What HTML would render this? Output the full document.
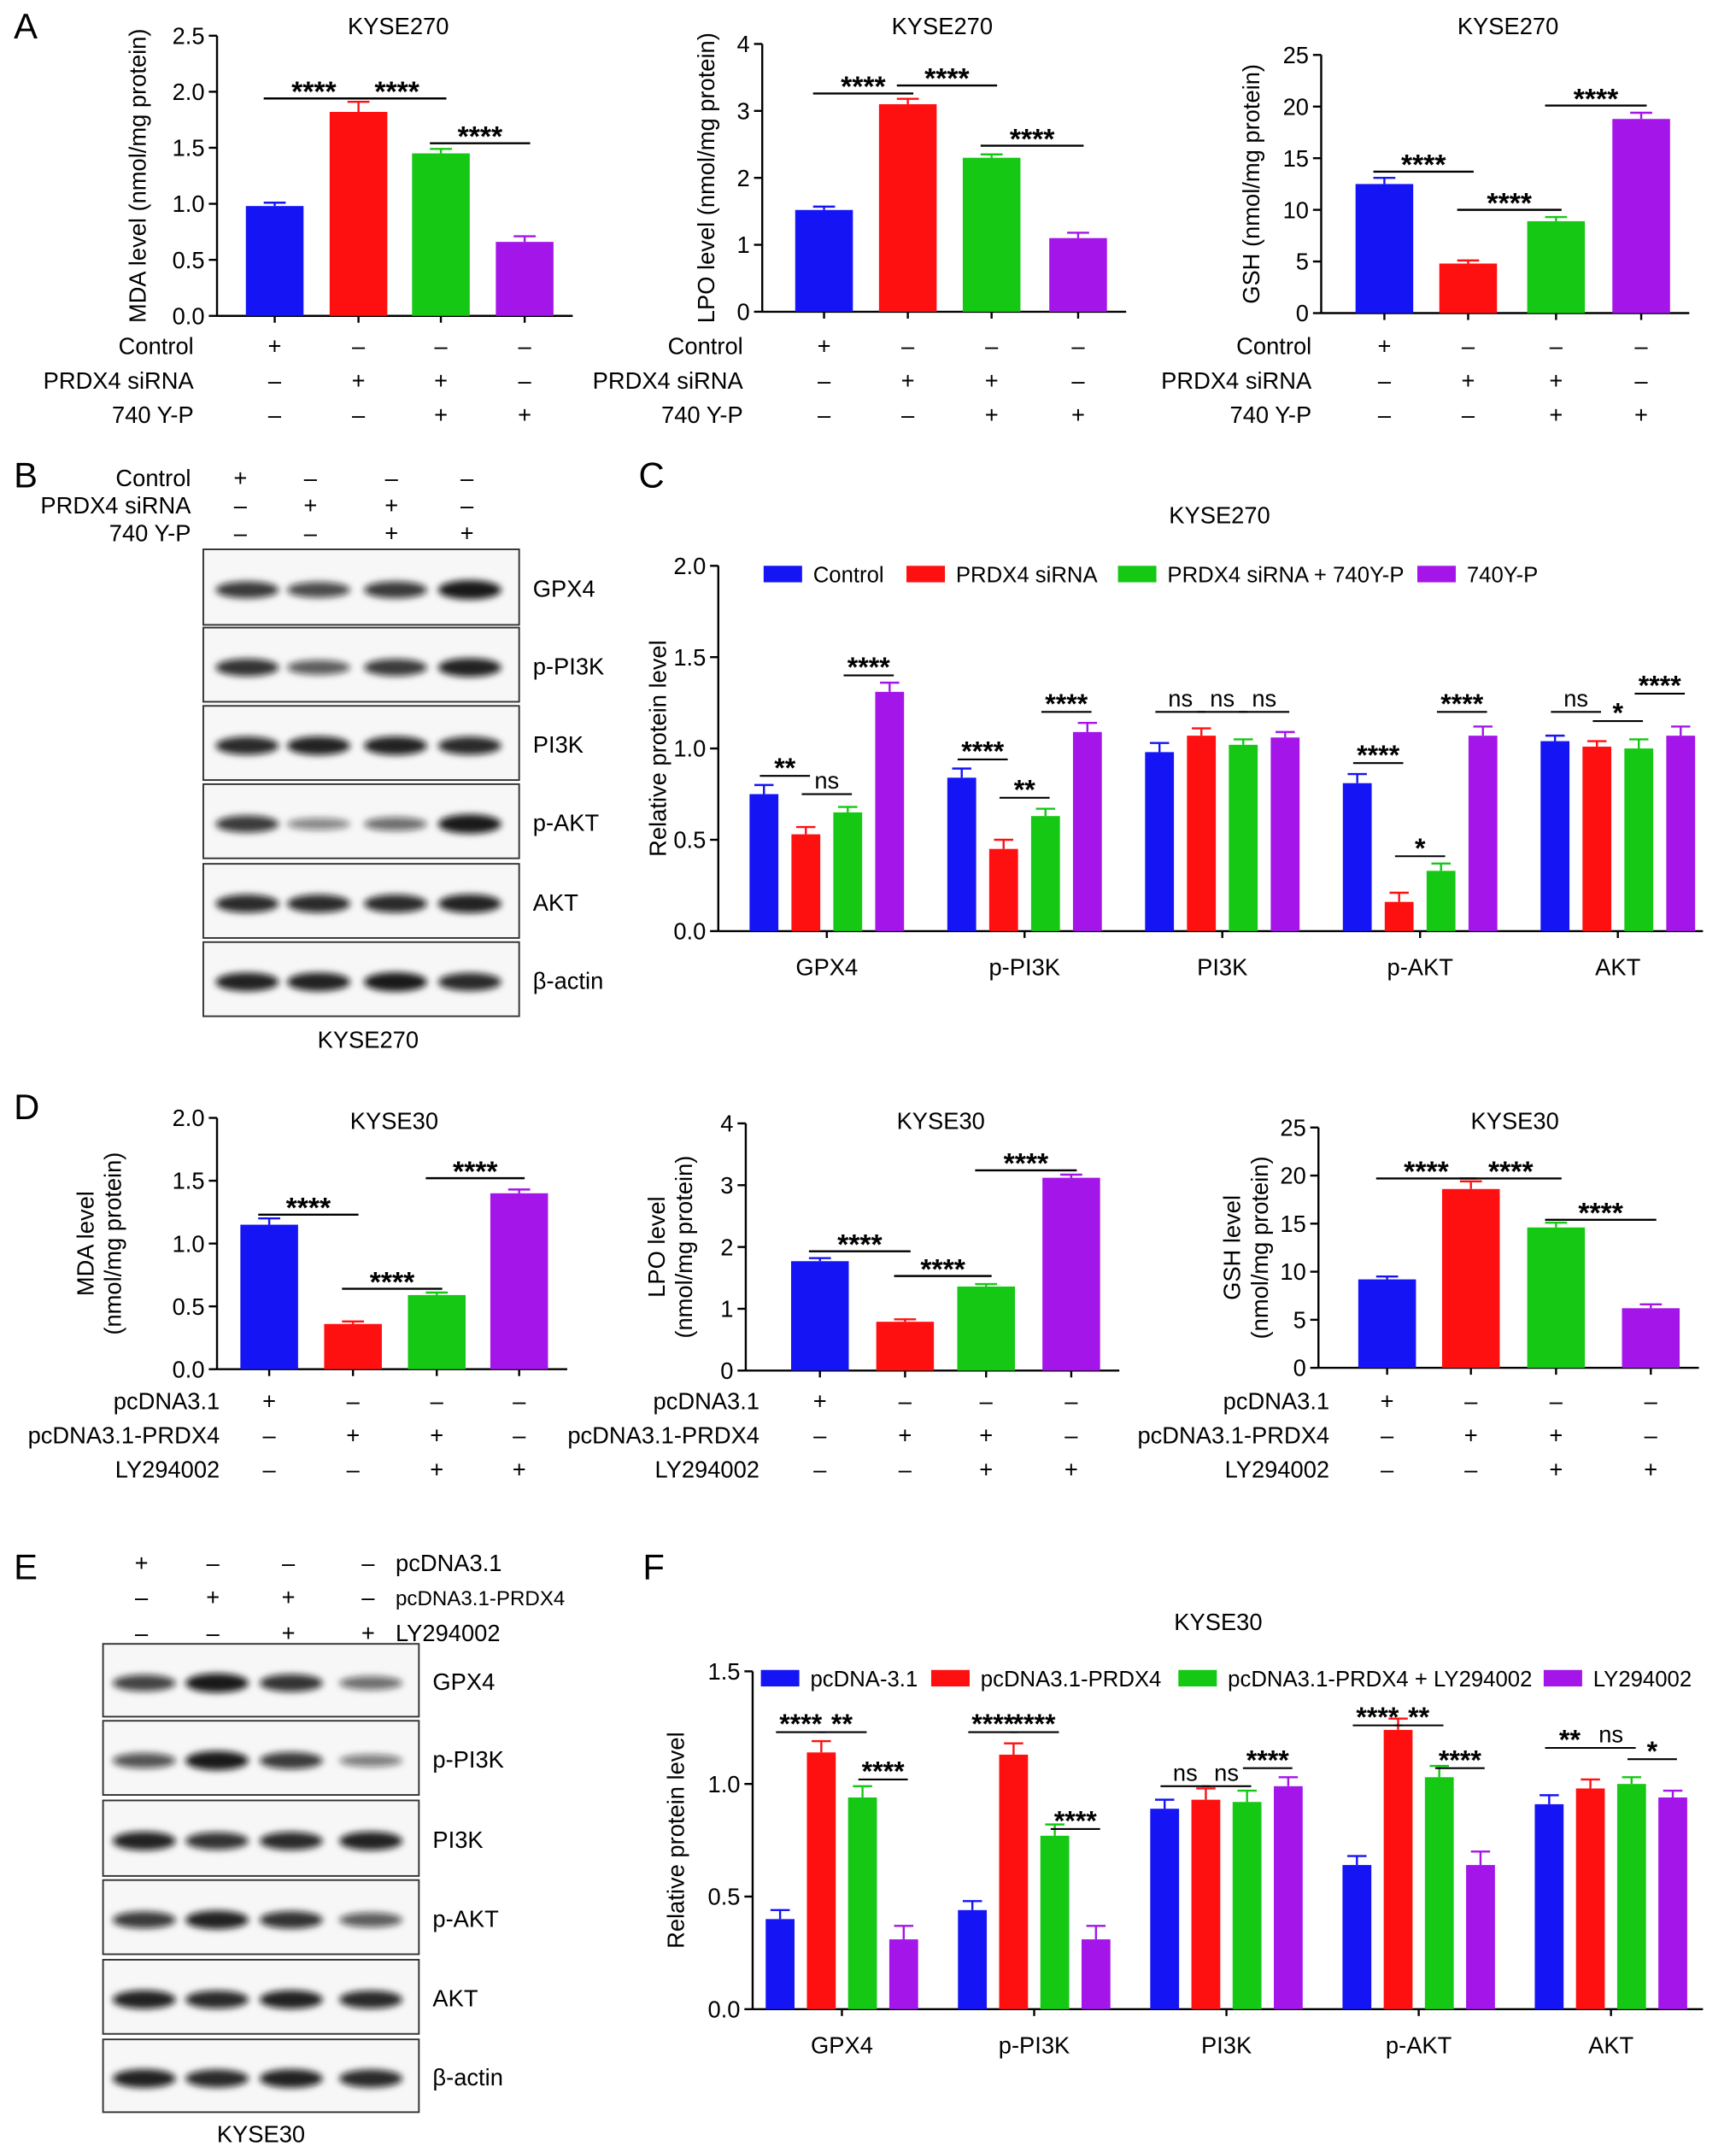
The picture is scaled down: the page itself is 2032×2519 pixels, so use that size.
<!DOCTYPE html>
<html><head><meta charset="utf-8">
<style>
html,body{margin:0;padding:0;background:#fff;}
svg{display:block;font-family:"Liberation Sans",Arial,sans-serif;}
</style></head>
<body>
<svg id="fig" xmlns="http://www.w3.org/2000/svg" width="2032" height="2519" viewBox="0 0 1264 1567">
<defs><filter id="blur" x="-20%" y="-50%" width="140%" height="200%"><feGaussianBlur stdDeviation="2.5"/></filter></defs>
</svg>
<script>
const COLORS=['#1414f5','#ff1010','#14c814','#a315e8'];
// Panel A data
const a1Values=[0.98,1.82,1.45,0.66], a1Err=[0.03,0.09,0.04,0.05];
const a2Values=[1.52,3.1,2.3,1.1], a2Err=[0.05,0.08,0.05,0.08];
const a3Values=[12.5,4.8,8.9,18.8], a3Err=[0.6,0.3,0.4,0.6];
const a1Ticks=['0.0','0.5','1.0','1.5','2.0','2.5'];
const a2Ticks=['0','1','2','3','4'];
const a3Ticks=['0','5','10','15','20','25'];
const a1Sig=[[0,1,1.94,'****'],[1,2,1.94,'****'],[2,3,1.54,'****']];
const a2Sig=[[0,1,3.26,'****'],[1,2,3.38,'****'],[2,3,2.48,'****']];
const a3Sig=[[0,1,13.7,'****'],[1,2,10.0,'****'],[2,3,20.1,'****']];
// Panel D data
const d1Values=[1.15,0.36,0.59,1.4], d1Err=[0.05,0.02,0.02,0.03];
const d2Values=[1.77,0.79,1.36,3.12], d2Err=[0.05,0.04,0.04,0.05];
const d3Values=[9.2,18.6,14.6,6.2], d3Err=[0.3,0.8,0.5,0.4];
const d1Ticks=['0.0','0.5','1.0','1.5','2.0'];
const d2Ticks=['0','1','2','3','4'];
const d3Ticks=['0','5','10','15','20','25'];
const d1Sig=[[0,1,1.23,'****'],[1,2,0.64,'****'],[2,3,1.52,'****']];
const d2Sig=[[0,1,1.93,'****'],[1,2,1.53,'****'],[2,3,3.24,'****']];
const d3Sig=[[0,1,19.7,'****'],[1,2,19.7,'****'],[2,3,15.4,'****']];
// Panel C data
const cCategories=['GPX4','p-PI3K','PI3K','p-AKT','AKT'];
const cControl=[0.75,0.84,0.98,0.81,1.04];
const cSiRNA=[0.53,0.45,1.07,0.16,1.01];
const cSiRNA740=[0.65,0.63,1.02,0.33,1.00];
const c740=[1.31,1.09,1.06,1.07,1.07];
const cErr=[[0.05,0.05,0.05,0.05,0.03],[0.04,0.05,0.04,0.05,0.03],[0.03,0.04,0.03,0.04,0.05],[0.05,0.05,0.03,0.05,0.05]];
const cTicks=['0.0','0.5','1.0','1.5','2.0'];
const cSig=[[0,0,1,0.85,'**'],[0,1,2,0.75,'ns'],[0,2,3,1.40,'****'],
 [1,0,1,0.94,'****'],[1,1,2,0.73,'**'],[1,2,3,1.20,'****'],
 [2,0,1,1.20,'ns'],[2,1,2,1.20,'ns'],[2,2,3,1.20,'ns'],
 [3,0,1,0.92,'****'],[3,1,2,0.41,'*'],[3,2,3,1.20,'****'],
 [4,0,1,1.20,'ns'],[4,1,2,1.15,'*'],[4,2,3,1.30,'****']];
const cLegend=['Control','PRDX4 siRNA','PRDX4 siRNA + 740Y-P','740Y-P'];
// Panel F data
const fControl=[0.40,0.44,0.89,0.64,0.91];
const fPRDX4=[1.14,1.13,0.93,1.24,0.98];
const fPRDX4LY=[0.94,0.77,0.92,1.03,1.00];
const fLY=[0.31,0.31,0.99,0.64,0.94];
const fErr=[[0.04,0.04,0.04,0.04,0.04],[0.05,0.05,0.05,0.05,0.04],[0.05,0.05,0.05,0.05,0.03],[0.06,0.06,0.04,0.06,0.03]];
const fTicks=['0.0','0.5','1.0','1.5'];
const fSig=[[0,0,1,1.23,'****'],[0,1,2,1.23,'**'],[0,2,3,1.02,'****'],
 [1,0,1,1.23,'****'],[1,1,2,1.23,'****'],[1,2,3,0.80,'****'],
 [2,0,1,0.99,'ns'],[2,1,2,0.99,'ns'],[2,2,3,1.07,'****'],
 [3,0,1,1.26,'****'],[3,1,2,1.26,'**'],[3,2,3,1.07,'****'],
 [4,0,1,1.16,'**'],[4,1,2,1.16,'ns'],[4,2,3,1.11,'*']];
const fLegend=['pcDNA-3.1','pcDNA3.1-PRDX4','pcDNA3.1-PRDX4 + LY294002','LY294002'];
// Blots
const bProteins=['GPX4','p-PI3K','PI3K','p-AKT','AKT','β-actin'];
const bIntensity=[[0.8,0.7,0.8,1.0],[0.85,0.6,0.8,0.95],[0.9,0.95,0.95,0.9],[0.8,0.35,0.5,1.0],[0.9,0.9,0.9,0.95],[0.95,0.95,1.0,0.9]];
const eIntensity=[[0.75,1.0,0.85,0.5],[0.65,1.0,0.8,0.4],[0.95,0.85,0.9,0.95],[0.8,0.95,0.85,0.6],[0.95,0.9,0.95,0.9],[0.95,0.9,0.95,0.9]];

const svg=document.getElementById('fig');
const NS='http://www.w3.org/2000/svg';
function mk(tag,name,attrs,parent){
  const e=document.createElementNS(NS,tag);
  
  
  for(const k in attrs) e.setAttribute(k,attrs[k]);
  (parent||svg).appendChild(e);
  return e;
}
function txt(name,x,y,s,size,anchor,extra){
  const t=mk('text',name,Object.assign({x:x,y:y,'font-size':size||17,'text-anchor':anchor||'start',fill:'#000'},extra||{}));
  t.textContent=s;return t;
}
function line(name,x1,y1,x2,y2,w,col){return mk('line',name,{x1:x1,y1:y1,x2:x2,y2:y2,stroke:col||'#000','stroke-width':w||1.5});}

function simpleChart(p){
  const sy=v=>p.y0-(v/p.max)*(p.y0-p.yTop);
  line('y-axis',p.ax,p.yTop,p.ax,p.y0);
  line('x-axis',p.ax,p.y0,p.centers[3]+35,p.y0);
  p.ticks.forEach((t,i)=>{const v=p.max*i/(p.ticks.length-1);const y=sy(v);
    line('y-tick',p.ax-6,y,p.ax,y);
    txt('y-tick-label',p.ax-9,y+6,t,17,'end');});
  p.centers.forEach(c=>line('x-tick',c,p.y0,c,p.y0+5));
  p.values.forEach((v,i)=>{
    const c=p.centers[i];
    mk('rect','bar-'+(i+1),{x:c-p.bw/2,y:sy(v),width:p.bw,height:p.y0-sy(v),fill:COLORS[i]});
    const ye=sy(v+p.err[i]);
    line('error-bar',c,sy(v),c,ye,1.5,COLORS[i]);line('error-cap',c-8,ye,c+8,ye,1.5,COLORS[i]);
  });
  p.sig.forEach(s=>{const y=sy(s[2]);const x1=p.centers[s[0]]-8,x2=p.centers[s[1]]+4;
    line('significance-line',x1,y,x2,y,1.5);
    txt('significance-label',(x1+x2)/2,y+2,s[3],21,'middle',{'font-weight':'bold'});});
  txt('chart-title',p.titleX,p.titleY,p.title,17,'middle');
  const yl=p.ylabel;
  if(yl.length===1){txt('y-axis-title',0,0,yl[0],17,'middle',{transform:`translate(${p.ylx},${(p.y0+p.yTop)/2}) rotate(-90)`});}
  else{txt('y-axis-title',0,0,yl[0],17,'middle',{transform:`translate(${p.ylx-10},${(p.y0+p.yTop)/2}) rotate(-90)`});
       txt('y-axis-title-unit',0,0,yl[1],17,'middle',{transform:`translate(${p.ylx+10},${(p.y0+p.yTop)/2}) rotate(-90)`});}
  p.rows.forEach((r,ri)=>{const y=p.rowY[ri];
    txt('condition-label',p.labelX,y+6,r[0],17,'end');
    r[1].forEach((s,i)=>txt('condition-sign',p.centers[i],y+6,s?'+':'–',17,'middle'));});
}
const rowsA=[['Control',[1,0,0,0]],['PRDX4 siRNA',[0,1,1,0]],['740 Y-P',[0,0,1,1]]];
const rowsD=[['pcDNA3.1',[1,0,0,0]],['pcDNA3.1-PRDX4',[0,1,1,0]],['LY294002',[0,0,1,1]]];
const rowYA=[252,277,302], rowYD=[1020,1045,1070];
simpleChart({ax:158,y0:230,yTop:26,max:2.5,ticks:a1Ticks,centers:[200,261,321,382],bw:42,values:a1Values,err:a1Err,sig:a1Sig,title:'KYSE270',titleX:290,titleY:25,ylabel:['MDA level (nmol/mg protein)'],ylx:106,rows:rowsA,rowY:rowYA,labelX:141});
simpleChart({ax:555,y0:227,yTop:32,max:4,ticks:a2Ticks,centers:[600,661,722,785],bw:42,values:a2Values,err:a2Err,sig:a2Sig,title:'KYSE270',titleX:686,titleY:25,ylabel:['LPO level (nmol/mg protein)'],ylx:520,rows:rowsA,rowY:rowYA,labelX:541});
simpleChart({ax:962,y0:228,yTop:40,max:25,ticks:a3Ticks,centers:[1008,1069,1133,1195],bw:42,values:a3Values,err:a3Err,sig:a3Sig,title:'KYSE270',titleX:1098,titleY:25,ylabel:['GSH (nmol/mg protein)'],ylx:917,rows:rowsA,rowY:rowYA,labelX:955});
simpleChart({ax:158,y0:997,yTop:814,max:2,ticks:d1Ticks,centers:[196,257,318,378],bw:42,values:d1Values,err:d1Err,sig:d1Sig,title:'KYSE30',titleX:287,titleY:822,ylabel:['MDA level','(nmol/mg protein)'],ylx:78,rows:rowsD,rowY:rowYD,labelX:160});
simpleChart({ax:543,y0:998,yTop:818,max:4,ticks:d2Ticks,centers:[597,659,718,780],bw:42,values:d2Values,err:d2Err,sig:d2Sig,title:'KYSE30',titleX:685,titleY:822,ylabel:['LPO level','(nmol/mg protein)'],ylx:494,rows:rowsD,rowY:rowYD,labelX:553});
simpleChart({ax:960,y0:996,yTop:821,max:25,ticks:d3Ticks,centers:[1010,1071,1133,1202],bw:42,values:d3Values,err:d3Err,sig:d3Sig,title:'KYSE30',titleX:1103,titleY:822,ylabel:['GSH  level','(nmol/mg protein)'],ylx:913,rows:rowsD,rowY:rowYD,labelX:968});

function groupChart(p){
  const sy=v=>p.y0-(v/p.max)*(p.y0-p.yTop);
  const bx=(g,i)=>p.g0+g*p.gStep+(i-1.5)*p.bStep;
  line('y-axis',p.ax,p.yTop,p.ax,p.y0);
  line('x-axis',p.ax,p.y0,p.xEnd,p.y0);
  p.ticks.forEach((t,i)=>{const v=p.max*i/(p.ticks.length-1);const y=sy(v);
    line('y-tick',p.ax-6,y,p.ax,y);txt('y-tick-label',p.ax-9,y+6,t,17,'end');});
  p.series.forEach((ser,i)=>ser.forEach((v,g)=>{const c=bx(g,i);
    mk('rect','bar-'+p.cats[g]+'-'+(i+1),{x:c-p.bw/2,y:sy(v),width:p.bw,height:p.y0-sy(v),fill:COLORS[i]});
    const ye=sy(v+p.err[i][g]);line('error-bar',c,sy(v),c,ye,1.5,COLORS[i]);line('error-cap',c-7,ye,c+7,ye,1.5,COLORS[i]);}));
  p.cats.forEach((c,g)=>{const x=p.g0+g*p.gStep;line('x-tick',x,p.y0,x,p.y0+5);txt('x-tick-label',x,p.y0+32,c,17,'middle');});
  p.sig.forEach(s=>{const y=sy(s[3]);const x1=bx(s[0],s[1])-3,x2=bx(s[0],s[2])+3;
    line('significance-line',x1,y,x2,y,1.3);
    const ns=s[4]==='ns';
    txt('significance-label',(x1+x2)/2,ns?y-4:y+1,s[4],ns?17:20,'middle',{'font-weight':ns?'normal':'bold'});});
  txt('chart-title',p.titleX,p.titleY,p.title,17,'middle');
  txt('y-axis-title',0,0,'Relative protein level',17,'middle',{transform:`translate(${p.ylx},${(p.y0+p.yTop)/2}) rotate(-90)`});
  p.legend.forEach((l,i)=>{const x=p.legX[i];
    mk('rect','legend-swatch',{x:x,y:p.legY-6,width:28,height:12,fill:COLORS[i]});
    txt('legend-entry',x+36,p.legY+6,l,16,'start');});
}
groupChart({ax:523,y0:678,yTop:412,max:2,ticks:cTicks,g0:602,gStep:144,bStep:30.5,bw:21,xEnd:1240,cats:cCategories,series:[cControl,cSiRNA,cSiRNA740,c740],err:cErr,sig:cSig,title:'KYSE270',titleX:888,titleY:381,ylx:485,legend:cLegend,legX:[556,660,814,1032],legY:418});
groupChart({ax:548,y0:1463,yTop:1217,max:1.5,ticks:fTicks,g0:613,gStep:140,bStep:30,bw:21,xEnd:1240,cats:cCategories,series:[fControl,fPRDX4,fPRDX4LY,fLY],err:fErr,sig:fSig,title:'KYSE30',titleX:887,titleY:1187,ylx:498,legend:fLegend,legX:[554,678,858,1124],legY:1222});

function blot(p){
  p.rows.forEach((r,ri)=>{
    mk('rect','blot-frame-'+bProteins[ri],{x:p.x,y:r[0],width:p.w,height:r[1]-r[0],fill:'#f7f7f7',stroke:'#333','stroke-width':1.2});
    const cy=(r[0]+r[1])/2+2;
    p.lanes.forEach((lx,li)=>{const k=p.int[ri][li];
      mk('ellipse','blot-band',{cx:lx,cy:cy,rx:23,ry:3+4*k,fill:'#111','fill-opacity':0.25+0.7*k,filter:'url(#blur)'});});
    txt('protein-label',p.x+p.w+10,cy+5,bProteins[ri],17,'start');
  });
  txt('cell-line-label',p.capX,p.capY,p.cap,17,'middle');
}
blot({x:148,w:230,rows:[[400,455],[457,511],[514,568],[571,625],[629,683],[686,740]],lanes:[180,232,288,342],int:bIntensity,cap:'KYSE270',capX:268,capY:763});
rowsA.forEach((r,ri)=>{const y=[348,368,388][ri];txt('blot-condition-label',139,y+6,r[0],17,'end');
  r[1].forEach((s,i)=>txt('blot-condition-sign',[175,226,285,340][i],y+6,s?'+':'–',17,'middle'));});
blot({x:75,w:230,rows:[[1197,1250],[1253,1307],[1311,1366],[1369,1423],[1427,1481],[1485,1538]],lanes:[105,158,212,270],int:eIntensity,cap:'KYSE30',capX:190,capY:1560});
rowsD.forEach((r,ri)=>{const y=[1138,1163,1189][ri];txt('blot-condition-label',288,y+6,r[0],ri===1?15:17,'start');
  r[1].forEach((s,i)=>txt('blot-condition-sign',[103,155,210,268][i],y+6,s?'+':'–',17,'middle'));});

[['A',10,28],['B',10,355],['C',465,355],['D',10,815],['E',10,1150],['F',468,1150]].forEach(l=>txt('panel-label-'+l[0],l[1],l[2],l[0],26,'start'));
</script>
</body></html>
